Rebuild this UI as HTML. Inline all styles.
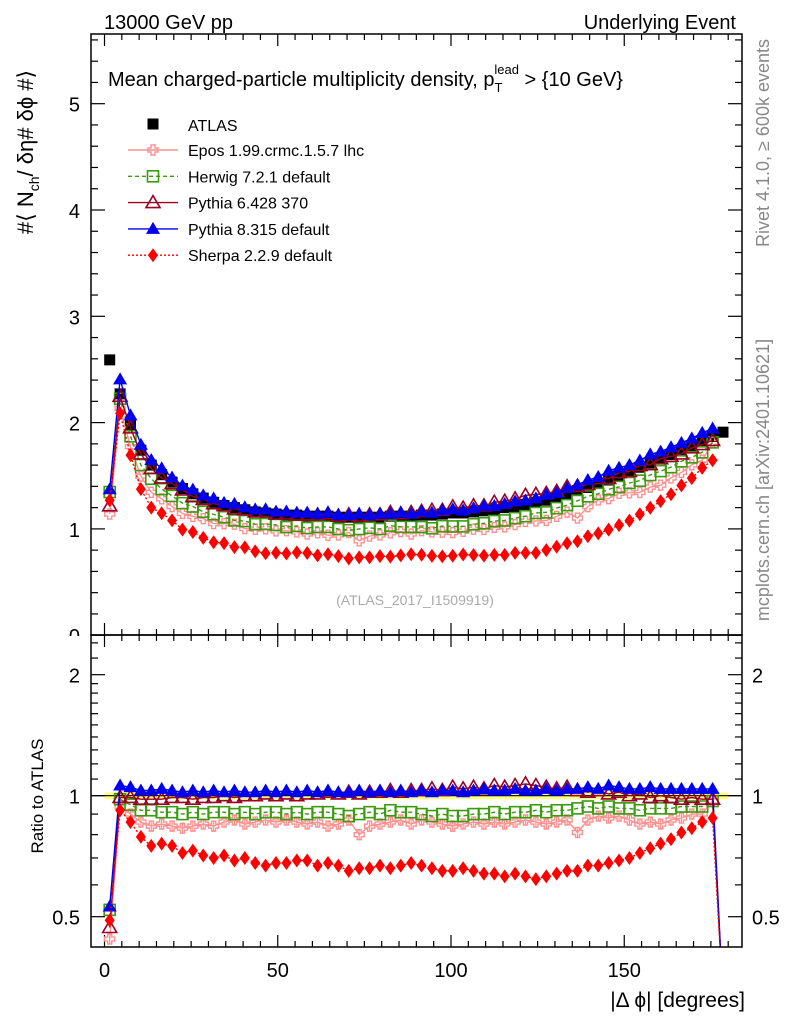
<!DOCTYPE html>
<html><head><meta charset="utf-8"><style>
html,body{margin:0;padding:0;background:#fff;}
svg{display:block;font-family:"Liberation Sans",sans-serif;}
</style></head><body>
<svg id="chart" width="786" height="1024" viewBox="0 0 786 1024">
<defs>
<clipPath id="cm"><rect x="91" y="34" width="651" height="601"/></clipPath>
<clipPath id="cr"><rect x="91" y="635" width="651" height="312"/></clipPath>
<clipPath id="cz"><rect x="0" y="600" width="90" height="36"/></clipPath>
</defs>
<text x="104" y="29" font-size="20">13000 GeV pp</text>
<text x="736" y="29" font-size="20" text-anchor="end">Underlying Event</text>
<text x="108" y="86" font-size="20">Mean charged-particle multiplicity density, p<tspan dy="6" font-size="13">T</tspan><tspan dx="-8" dy="-18" font-size="13">lead</tspan><tspan dy="12"> &gt; {10 GeV}</tspan></text>
<text transform="translate(33,152) rotate(-90)" font-size="22" text-anchor="middle">#⟨ N<tspan dy="6" font-size="14">ch</tspan><tspan dy="-6">/ δη# δϕ #⟩</tspan></text>
<text transform="translate(43,796) rotate(-90)" font-size="17" text-anchor="middle">Ratio to ATLAS</text>
<text transform="translate(769,143) rotate(-90)" font-size="18" fill="#888" text-anchor="middle">Rivet 4.1.0, ≥ 600k events</text>
<text transform="translate(769,480) rotate(-90)" font-size="18" fill="#888" text-anchor="middle">mcplots.cern.ch [arXiv:2401.10621]</text>
<text x="415" y="605" font-size="14" fill="#aaa" text-anchor="middle">(ATLAS_2017_I1509919)</text>
<text x="745" y="1007" font-size="21" text-anchor="end">|Δ ϕ| [degrees]</text>
<g id="axes"></g>
<g id="ratioband"></g>
<g id="mainmarks" clip-path="url(#cm)"></g>
<g id="ratiomarks" clip-path="url(#cr)"></g>
<rect x="91" y="34" width="651" height="601" fill="none" stroke="#000" stroke-width="1.5"/>
<rect x="91" y="635" width="651" height="312" fill="none" stroke="#000" stroke-width="1.5"/>
<g id="legend"></g>
</svg>
<script>
const xCenters=[];for(let i=0;i<60;i++)xCenters.push(1.5+3*i);
const atlas=[2.59,2.27,1.97,1.74,1.60,1.51,1.44,1.38,1.33,1.29,1.25,1.22,1.20,1.18,1.16,1.15,1.14,1.13,1.13,1.12,1.12,1.12,1.11,1.11,1.11,1.11,1.11,1.12,1.12,1.12,1.13,1.13,1.14,1.15,1.15,1.16,1.17,1.18,1.20,1.21,1.23,1.25,1.27,1.30,1.33,1.36,1.39,1.43,1.46,1.50,1.54,1.58,1.62,1.66,1.70,1.74,1.78,1.83,1.87,1.91];
const ratioEpos=[0.44,0.94,0.90,0.86,0.84,0.85,0.84,0.83,0.84,0.85,0.84,0.86,0.87,0.85,0.86,0.87,0.86,0.87,0.86,0.85,0.86,0.84,0.85,0.87,0.80,0.84,0.85,0.86,0.87,0.85,0.87,0.86,0.85,0.84,0.85,0.86,0.85,0.86,0.85,0.86,0.87,0.86,0.85,0.86,0.87,0.81,0.87,0.89,0.88,0.89,0.87,0.85,0.86,0.85,0.87,0.88,0.90,0.90,0.97,0];
const ratioHerwig=[0.52,0.98,0.95,0.92,0.92,0.91,0.91,0.90,0.91,0.90,0.91,0.91,0.90,0.91,0.90,0.91,0.91,0.90,0.91,0.90,0.91,0.91,0.90,0.89,0.90,0.91,0.90,0.92,0.91,0.91,0.90,0.89,0.90,0.89,0.89,0.90,0.90,0.91,0.90,0.91,0.91,0.92,0.91,0.92,0.92,0.93,0.94,0.93,0.94,0.93,0.93,0.92,0.93,0.93,0.93,0.94,0.94,0.94,0.97,0];
const ratioPy6=[0.47,0.99,0.99,0.98,0.98,0.98,0.99,0.99,0.98,0.99,0.99,1.00,0.99,1.00,1.00,1.01,1.00,1.01,1.00,1.01,1.01,1.02,1.01,1.02,1.01,1.02,1.02,1.03,1.02,1.03,1.03,1.04,1.03,1.05,1.04,1.05,1.04,1.06,1.05,1.06,1.07,1.06,1.05,1.04,1.05,1.03,1.02,1.03,1.01,1.02,1.00,1.01,0.99,1.00,0.99,0.98,0.99,0.98,0.98,0];
const ratioPy8=[0.53,1.06,1.05,1.03,1.03,1.04,1.03,1.02,1.03,1.02,1.03,1.02,1.03,1.02,1.02,1.03,1.02,1.03,1.02,1.03,1.02,1.03,1.02,1.02,1.03,1.02,1.03,1.02,1.03,1.02,1.03,1.02,1.03,1.03,1.02,1.03,1.04,1.03,1.03,1.04,1.03,1.03,1.04,1.03,1.04,1.04,1.05,1.04,1.06,1.05,1.04,1.04,1.05,1.04,1.04,1.04,1.04,1.04,1.04,0];
const ratioSherpa=[0.49,0.92,0.86,0.79,0.75,0.76,0.75,0.72,0.73,0.71,0.70,0.71,0.69,0.70,0.68,0.67,0.68,0.68,0.69,0.69,0.67,0.68,0.67,0.65,0.66,0.66,0.67,0.66,0.67,0.68,0.67,0.66,0.65,0.65,0.66,0.65,0.64,0.64,0.63,0.64,0.63,0.62,0.63,0.64,0.65,0.65,0.67,0.67,0.68,0.69,0.70,0.72,0.74,0.76,0.78,0.81,0.83,0.86,0.88,0];
const xTicks=[0,50,100,150];
const yTicks=[1,2,3,4,5];
const rTicks=[0.5,1,2];

const NS="http://www.w3.org/2000/svg";
function X(v){return 104.5+3.465*v;}
function Y(v){return 635.2-106.3*v;}
function R(v){if(v<=0)return 1000;return 795.7-121*Math.log2(v);}
function mk(tag,attrs,parent){const e=document.createElementNS(NS,tag);for(const k in attrs)e.setAttribute(k,attrs[k]);parent.appendChild(e);return e;}
const axes=document.getElementById('axes');
for(let v=0;v<=180;v+=5){const major=v%50===0;const L=major?12:6;
 for(const [top,bot] of [[34,635],[635,947]]){
  const t=mk('line',{x1:X(v),x2:X(v),y1:bot,y2:bot-L,stroke:'#000','stroke-width':1.2},axes);
  
  const t2=mk('line',{x1:X(v),x2:X(v),y1:top,y2:top+L,stroke:'#000','stroke-width':1.2},axes);
  
 }}
xTicks.forEach(v=>{const t=mk('text',{x:X(v),y:977,'font-size':20,'text-anchor':'middle'},axes);t.textContent=v;
 });
for(let k=0;k<=28;k++){const v=k*0.2;if(Y(v)<34)continue;const major=k%5===0;const L=major?14:7;
 const a=mk('line',{x1:91,x2:91+L,y1:Y(v),y2:Y(v),stroke:'#000','stroke-width':1.2},axes);
 
 const b=mk('line',{x1:742,x2:742-L,y1:Y(v),y2:Y(v),stroke:'#000','stroke-width':1.2},axes);
 }
yTicks.forEach(v=>{const t=mk('text',{x:80,y:Y(v)+8,'font-size':20,'text-anchor':'end'},axes);t.textContent=v;
 });
const z=mk('text',{x:80,y:643,'font-size':20,'text-anchor':'end','clip-path':'url(#cz)'},axes);z.textContent='0';

[0.5,0.6,0.7,0.8,0.9,1,1.1,1.2,1.3,1.4,1.5,1.6,1.7,1.8,1.9,2,2.2,2.4].forEach(v=>{const major=(v===0.5||v===1||v===2);const L=major?14:7;
 const a=mk('line',{x1:91,x2:91+L,y1:R(v),y2:R(v),stroke:'#000','stroke-width':1.2},axes);
 
 const b=mk('line',{x1:742,x2:742-L,y1:R(v),y2:R(v),stroke:'#000','stroke-width':1.2},axes);
 });
rTicks.forEach(v=>{const t=mk('text',{x:80,y:R(v)+8,'font-size':20,'text-anchor':'end'},axes);t.textContent=v;
 
 const t2=mk('text',{x:752,y:R(v)+8,'font-size':20},axes);t2.textContent=v;
 });
const rb=document.getElementById('ratioband');
const band=mk('rect',{x:X(0),y:R(1.02),width:X(180)-X(0),height:R(0.98)-R(1.02),fill:'#ffff88'},rb);

const one=mk('line',{x1:91,x2:742,y1:R(1),y2:R(1),stroke:'#000','stroke-width':1.2},rb);


function marker(g,type,x,y,color){let e;
 if(type==='sq'){e=mk('rect',{x:x-5.5,y:y-5.5,width:11,height:11,fill:'#000'},g);}
 else if(type==='osq'){e=mk('rect',{x:x-5.5,y:y-5.5,width:11,height:11,fill:'none',stroke:color,'stroke-width':1.6},g);}
 else if(type==='otri'){e=mk('polygon',{points:`${x},${y-7} ${x-7},${y+5} ${x+7},${y+5}`,fill:'none',stroke:color,'stroke-width':1.6},g);}
 else if(type==='tri'){e=mk('polygon',{points:`${x},${y-7} ${x-7},${y+5} ${x+7},${y+5}`,fill:color},g);}
 else if(type==='dia'){e=mk('polygon',{points:`${x},${y-7} ${x-5},${y} ${x},${y+7} ${x+5},${y}`,fill:color},g);}
 else if(type==='cross'){e=mk('path',{d:`M${x-2} ${y-5}h4v3h3v4h-3v3h-4v-3h-3v-4h3z`,fill:'none',stroke:color,'stroke-width':1.4},g);}
 return e;}
const series=[
 {name:'epos',ratio:ratioEpos,color:'#ff9090',type:'cross',dash:'',label:'Epos 1.99.crmc.1.5.7 lhc'},
 {name:'herwig',ratio:ratioHerwig,color:'#3c9a10',type:'osq',dash:'4,3',label:'Herwig 7.2.1 default'},
 {name:'pythia6',ratio:ratioPy6,color:'#990022',type:'otri',dash:'',label:'Pythia 6.428 370'},
 {name:'pythia8',ratio:ratioPy8,color:'#0000ee',type:'tri',dash:'',label:'Pythia 8.315 default'},
 {name:'sherpa',ratio:ratioSherpa,color:'#ff0000',type:'dia',dash:'2,2',label:'Sherpa 2.2.9 default'}];
const mm=document.getElementById('mainmarks'),rm=document.getElementById('ratiomarks');
atlas.forEach((v,i)=>{const m=marker(mm,'sq',X(xCenters[i]),Y(v));});
series.forEach(s=>{
 const gm=mk('g',{},mm);
 const gr=mk('g',{},rm);
 let pm=[],pr=[];
 s.ratio.forEach((r,i)=>{const x=X(xCenters[i]);const val=r*atlas[i];
  if(r>0)pm.push(x+','+Y(val).toFixed(1));
  pr.push(x+','+Math.min(R(r),1000).toFixed(1));});
 const l1=mk('polyline',{points:pm.join(' '),fill:'none',stroke:s.color,'stroke-width':1.4,'stroke-dasharray':s.dash},gm);
 
 const l2=mk('polyline',{points:pr.join(' '),fill:'none',stroke:s.color,'stroke-width':1.4,'stroke-dasharray':s.dash},gr);
 
 s.ratio.forEach((r,i)=>{if(r<=0)return;const x=X(xCenters[i]);
  if(s.name==='epos'){const e1=mk('line',{x1:x,x2:x,y1:R(r*1.03),y2:R(r*0.97),stroke:s.color,'stroke-width':1.2},gr);}
  const a=marker(gm,s.type,x,Y(r*atlas[i]),s.color);
  const b=marker(gr,s.type,x,R(r),s.color);});
});
const lg=document.getElementById('legend');
const a0=marker(lg,'sq',153,124);
const t0=mk('text',{x:188,y:131,'font-size':16},lg);t0.textContent='ATLAS';
series.forEach((s,k)=>{const y=150+26.3*k;
 const l=mk('line',{x1:128,x2:178,y1:y,y2:y,stroke:s.color,'stroke-width':1.4,'stroke-dasharray':s.dash},lg);
 const m=marker(lg,s.type,153,y,s.color);
 const t=mk('text',{x:188,y:y+6,'font-size':16},lg);t.textContent=s.label;});
</script>
</body></html>
